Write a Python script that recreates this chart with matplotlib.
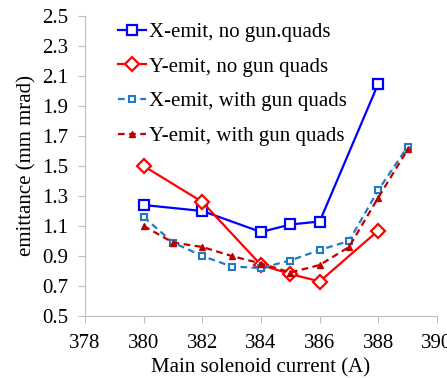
import matplotlib
matplotlib.use("Agg")
import matplotlib.pyplot as plt

plt.rcParams['font.family'] = ['Liberation Serif', 'DejaVu Serif']

current_a = [380, 382, 384, 385, 386, 388]
x_emit_noquad = [1.24, 1.20, 1.06, 1.11, 1.13, 2.05]
y_emit_noquad = [1.50, 1.26, 0.84, 0.78, 0.73, 1.07]

current_b = [380, 381, 382, 383, 384, 385, 386, 387, 388, 389]
x_emit_quad = [1.16, 0.99, 0.90, 0.83, 0.82, 0.87, 0.94, 1.00, 1.34, 1.63]
y_emit_quad = [1.10, 0.99, 0.96, 0.90, 0.85, 0.79, 0.84, 0.96, 1.29, 1.61]

fig = plt.figure(figsize=(4.47, 3.78), dpi=100)
ax = fig.add_axes([85 / 447, 1 - 316 / 378, (437 - 85) / 447, (316 - 16) / 378])

ax.plot(current_a, x_emit_noquad, '-s', color='#0000FF', lw=1.6, ms=7.5,
        mfc='white', mew=1.6, label='X-emit, no gun.quads')
ax.plot(current_a, y_emit_noquad, '-D', color='#FF0000', lw=1.6, ms=7,
        mfc='white', mew=1.6, label='Y-emit, no gun quads')
ax.plot(current_b, x_emit_quad, '--s', color='#1F7BC8', lw=1.6, ms=5,
        mfc='white', mew=1.5, dashes=(3, 2), label='X-emit, with gun quads')
ax.plot(current_b, y_emit_quad, '--^', color='#C00000', lw=1.6, ms=5,
        mew=1.0, dashes=(3, 2), label='Y-emit, with gun quads')

ax.set_xlim(378, 390)
ax.set_ylim(0.5, 2.5)
ax.set_xticks(range(378, 391, 2))
ax.set_yticks([0.5, 0.7, 0.9, 1.1, 1.3, 1.5, 1.7, 1.9, 2.1, 2.3, 2.5])
ax.set_yticklabels([f'{v:.1f}' for v in ax.get_yticks()])

for s in ['top', 'right']:
    ax.spines[s].set_visible(False)
for s in ['left', 'bottom']:
    ax.spines[s].set_color('#BFBFBF')
ax.tick_params(colors='#BFBFBF', labelcolor='black', labelsize=15, length=5)
ax.tick_params(axis='x', pad=8)
ax.tick_params(axis='y', pad=7)

ax.set_xlabel('Main solenoid current (A)', fontsize=15, labelpad=4)
ax.set_ylabel('emittance (mm mrad)', fontsize=15, labelpad=4)

ax.legend(loc='upper left', bbox_to_anchor=(0.088, 0.985), frameon=False,
          fontsize=15, handlelength=1.35, handletextpad=0.15,
          labelspacing=0.72, borderaxespad=0, borderpad=0.1)

fig.savefig('out.png', dpi=100)
